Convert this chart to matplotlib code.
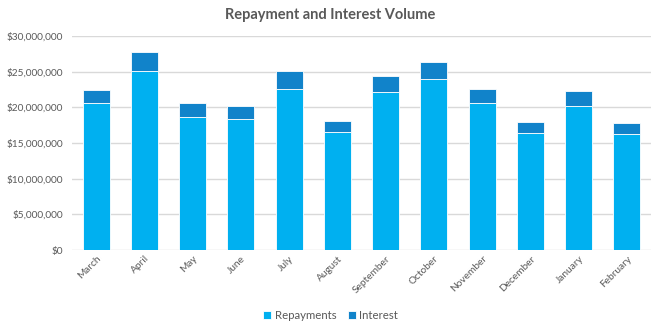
import matplotlib.pyplot as plt
from matplotlib.ticker import FuncFormatter

months = ["March", "April", "May", "June", "July", "August", "September",
          "October", "November", "December", "January", "February"]
repayments = [20.6, 25.1, 18.7, 18.4, 22.6, 16.55, 22.2, 24.0, 20.6, 16.45,
              20.25, 16.2]
totals = [22.4, 27.8, 20.65, 20.2, 25.1, 18.1, 24.35, 26.3, 22.6, 17.95,
          22.35, 17.75]
repayments = [v * 1e6 for v in repayments]
interest = [t * 1e6 - r for t, r in zip(totals, repayments)]


def main():
    plt.rcParams['font.family'] = ['Lato', 'DejaVu Sans']
    grey = '#595959'
    fig = plt.figure(figsize=(6.61, 3.30), dpi=100)
    ax = fig.add_axes([0.109, 0.2424, 0.876, 0.6485])

    x = range(len(months))
    ax.bar(x, repayments, width=0.56, color='#00B0F0', edgecolor='white',
           linewidth=0.6, label='Repayments', zorder=3)
    ax.bar(x, interest, width=0.56, bottom=repayments, color='#1183CA',
           edgecolor='white', linewidth=0.6, label='Interest', zorder=3)

    ax.set_ylim(0, 30e6)
    ax.set_xlim(-0.5, len(months) - 0.5)
    ax.set_yticks(range(0, 30000001, 5000000))
    ax.yaxis.set_major_formatter(FuncFormatter(lambda v, p: f"${v:,.0f}"))
    ax.grid(axis='y', color='#D9D9D9', linewidth=1, zorder=0)
    for s in ax.spines.values():
        s.set_visible(False)
    ax.tick_params(axis='y', length=0, colors=grey, labelsize=7.3, pad=6.5)
    ax.tick_params(axis='x', length=0, colors=grey, labelsize=7.3, pad=3)
    ax.set_xticks(list(x))
    ax.set_xticklabels(months, rotation=45, ha='right',
                       rotation_mode='anchor')

    fig.suptitle('Repayment and Interest Volume', x=0.5, y=0.975,
                 fontsize=10.5, fontweight='bold', color=grey)
    fig.legend(loc='center', bbox_to_anchor=(0.5, 0.045), ncol=2,
               frameon=False, fontsize=8.2, handlelength=0.7,
               handleheight=0.7, handletextpad=0.3, columnspacing=1.0,
               labelcolor=grey)
    fig.savefig('out.png', dpi=100)


if __name__ == "__main__":
    main()
